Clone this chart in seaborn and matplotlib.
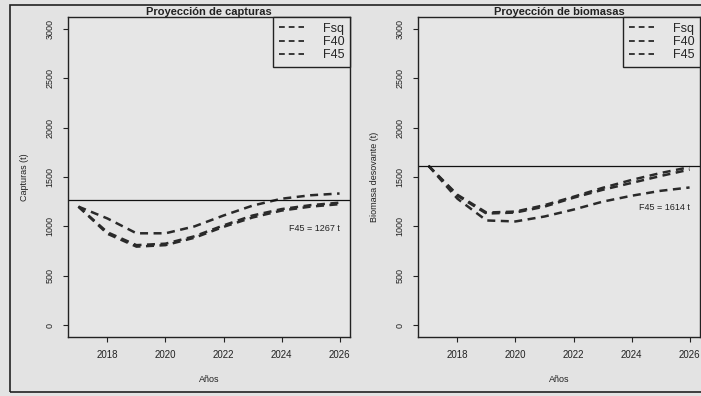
import matplotlib
matplotlib.use("Agg")
import matplotlib.pyplot as plt
import seaborn as sns
import pandas as pd
from matplotlib.patches import Rectangle
from matplotlib.lines import Line2D

years = [2017, 2018, 2019, 2020, 2021, 2022, 2023, 2024, 2025, 2026]
series = ["Fsq", "F40", "F45"]

capt_fsq = [1200, 1080, 930, 930, 1000, 1110, 1210, 1280, 1315, 1333]
capt_f40 = [1200, 940, 810, 825, 900, 1010, 1110, 1175, 1215, 1240]
capt_f45 = [1200, 925, 795, 810, 885, 995, 1090, 1160, 1200, 1225]
capt_ref = 1272

bio_fsq = [1614, 1280, 1060, 1050, 1100, 1170, 1250, 1310, 1360, 1394]
bio_f40 = [1614, 1310, 1130, 1140, 1200, 1290, 1370, 1440, 1510, 1575]
bio_f45 = [1614, 1320, 1140, 1150, 1215, 1300, 1390, 1470, 1540, 1600]
bio_ref = 1614

titles = ["Proyección de capturas", "Proyección de biomasas"]
ylabels = ["Capturas (t)", "Biomasa desovante (t)"]
notes = ["F45 = 1267 t", "F45 = 1614 t"]
note_y = [975, 1190]
xlabel = "Años"
yticks = [0, 500, 1000, 1500, 2000, 2500, 3000]
xticks = [2018, 2020, 2022, 2024, 2026]

def long_df(a, b, c):
    return pd.DataFrame({
        "year": years * 3,
        "value": a + b + c,
        "serie": [series[0]] * len(years) + [series[1]] * len(years) + [series[2]] * len(years),
    })

dfs = [long_df(capt_fsq, capt_f40, capt_f45), long_df(bio_fsq, bio_f40, bio_f45)]
refs = [capt_ref, bio_ref]

sns.set_theme(style="white")
plt.rcParams["font.family"] = ["Liberation Sans", "DejaVu Sans"]

bg = "#e3e3e3"
fig = plt.figure(figsize=(7.01, 3.96), dpi=100, facecolor=bg)
fig.patches.append(Rectangle((10 / 701, 4 / 396), 1.2, 387 / 396, transform=fig.transFigure,
                             fill=False, edgecolor="#222222", linewidth=1.2))

positions = [[68 / 701, 1 - 337 / 396, 282 / 701, 320 / 396],
             [418 / 701, 1 - 337 / 396, 282 / 701, 320 / 396]]

line_color = "#2a2a2a"
dash = (3.2, 2.2)

for i in range(2):
    ax = fig.add_axes(positions[i])
    ax.set_facecolor("#e6e6e6")
    sns.lineplot(data=dfs[i], x="year", y="value", hue="serie", style="serie",
                 palette=[line_color] * 3, dashes=[dash] * 3, linewidth=1.8,
                 ax=ax, legend=False)
    ax.axhline(refs[i], color="#111111", linewidth=0.9)
    ax.set_xlim(2016.64, 2026.36)
    ax.set_ylim(-120, 3120)
    ax.set_xticks(xticks)
    ax.set_yticks(yticks)
    ax.set_xticklabels([str(t) for t in xticks], fontsize=7, color="#222222")
    ax.set_yticklabels([str(t) for t in yticks], fontsize=6.5, color="#222222",
                       rotation=90, va="center")
    ax.tick_params(axis="both", direction="out", length=3.5, width=0.8, color="#222222",
                   left=True, bottom=True, pad=6)
    for s in ax.spines.values():
        s.set_color("#222222")
        s.set_linewidth(1.0)
    ax.set_xlabel(xlabel, fontsize=6.5, color="#222222", labelpad=11)
    ax.set_ylabel(ylabels[i], fontsize=6.5, color="#222222", labelpad=12)
    ax.set_title(titles[i], fontsize=8, fontweight="bold", color="#222222", pad=1.5)
    ax.text(2026, note_y[i], notes[i], ha="right", va="center", fontsize=6.5, color="#222222")
    handles = [Line2D([0], [0], color=line_color, linewidth=1.3, dashes=dash) for _ in series]
    leg = ax.legend(handles, series, loc="upper right", borderaxespad=0, fontsize=9,
                    frameon=True, fancybox=False, handlelength=2.0, handletextpad=1.5,
                    borderpad=0.45, labelspacing=0.1)
    leg.get_frame().set_edgecolor("#222222")
    leg.get_frame().set_linewidth(1.0)
    leg.get_frame().set_facecolor("#e6e6e6")
    leg.get_frame().set_alpha(1)

fig.savefig("out.png", dpi=100, facecolor=bg)
